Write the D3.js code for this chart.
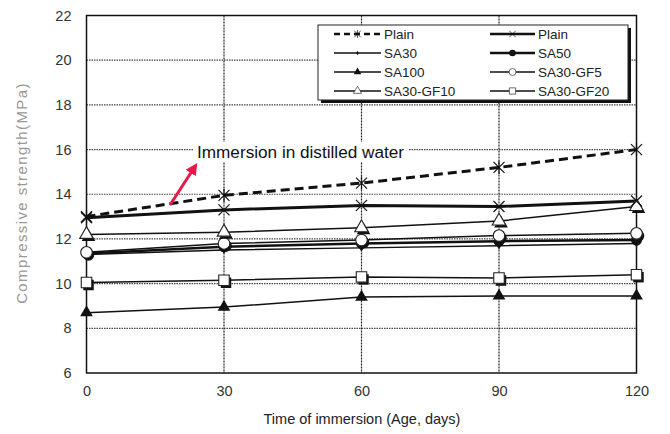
<!DOCTYPE html>
<html>
<head>
<meta charset="utf-8">
<script src="https://cdn.jsdelivr.net/npm/d3@7"></script>
<style>
  body { margin: 0; background: #fff; }
  text { font-family: "Liberation Sans", Arial, sans-serif; }
</style>
</head>
<body>
<svg id="chart" width="670" height="434"></svg>
<script>
// Section for Data
var days = [0, 30, 60, 90, 120];
var xTicks = [0, 30, 60, 90, 120];
var yTicks = [6, 8, 10, 12, 14, 16, 18, 20, 22];

var plainWater = [13.0, 13.95, 14.5, 15.2, 16.0];
var plain = [12.95, 13.3, 13.5, 13.45, 13.7];
var sa30 = [11.3, 11.5, 11.6, 11.7, 11.8];
var sa50 = [11.35, 11.65, 11.8, 11.9, 11.95];
var sa100 = [8.7, 8.95, 9.4, 9.45, 9.45];
var gf5 = [11.4, 11.8, 11.95, 12.15, 12.25];
var gf10 = [12.2, 12.3, 12.5, 12.8, 13.45];
var gf20 = [10.05, 10.15, 10.3, 10.25, 10.4];

var seriesNames = ["Plain", "Plain", "SA30", "SA50", "SA100", "SA30-GF5", "SA30-GF10", "SA30-GF20"];

// style per series: marker, dash, width
var series = [
    { name: seriesNames[0], values: plainWater, marker: "star", dash: "9,5", width: 3 },
    { name: seriesNames[1], values: plain, marker: "x", dash: null, width: 3 },
    { name: seriesNames[2], values: sa30, marker: "diamond", dash: null, width: 1.5 },
    { name: seriesNames[3], values: sa50, marker: "dot", dash: null, width: 2.5 },
    { name: seriesNames[4], values: sa100, marker: "tri", dash: null, width: 1.5 },
    { name: seriesNames[5], values: gf5, marker: "circle", dash: null, width: 1.5 },
    { name: seriesNames[6], values: gf10, marker: "otri", dash: null, width: 1.5 },
    { name: seriesNames[7], values: gf20, marker: "square", dash: null, width: 1.5 }
];

var svg = d3.select("#chart");
var plotLeft = 86.5, plotRight = 636.5, plotTop = 15.5, plotBottom = 373;

var x = d3.scaleLinear().domain([0, 120]).range([plotLeft, plotRight]);
var y = d3.scaleLinear().domain([6, 22]).range([plotBottom, plotTop]);

// gridlines
svg.append("g").selectAll("line")
    .data(yTicks.slice(1, -1))
    .enter().append("line")
    .attr("x1", plotLeft).attr("x2", plotRight)
    .attr("y1", function (d) { return y(d); })
    .attr("y2", function (d) { return y(d); })
    .attr("stroke", "#444").attr("stroke-width", 1.2)
    .attr("stroke-dasharray", "1.5,1");

svg.append("g").selectAll("line")
    .data(xTicks.slice(1, -1))
    .enter().append("line")
    .attr("y1", plotTop).attr("y2", plotBottom)
    .attr("x1", function (d) { return x(d); })
    .attr("x2", function (d) { return x(d); })
    .attr("stroke", "#222").attr("stroke-width", 1.2)
    .attr("stroke-dasharray", "2,1");

// frame
svg.append("rect")
    .attr("x", plotLeft).attr("y", plotTop)
    .attr("width", plotRight - plotLeft).attr("height", plotBottom - plotTop)
    .attr("fill", "none").attr("stroke", "#111").attr("stroke-width", 1.5);

// axes
var xAxis = svg.append("g")
    .attr("transform", "translate(0," + plotBottom + ")")
    .call(d3.axisBottom(x).tickValues(xTicks).tickSize(0).tickPadding(13));
xAxis.select(".domain").remove();
xAxis.selectAll("text").attr("font-size", 14.5).attr("fill", "#333")
    .attr("font-family", "Liberation Sans, Arial, sans-serif");

var yAxis = svg.append("g")
    .attr("transform", "translate(" + plotLeft + ",0)")
    .call(d3.axisLeft(y).tickValues(yTicks).tickSize(0).tickPadding(15));
yAxis.select(".domain").remove();
yAxis.selectAll("text").attr("font-size", 14.5).attr("fill", "#333")
    .attr("font-family", "Liberation Sans, Arial, sans-serif");

svg.append("text")
    .attr("x", 362).attr("y", 424)
    .attr("text-anchor", "middle")
    .attr("font-size", 14.5).attr("fill", "#222")
    .text("Time of immersion (Age, days)");

svg.append("text")
    .attr("transform", "translate(27,193) rotate(-90)")
    .attr("text-anchor", "middle")
    .attr("font-size", 15).attr("fill", "#999")
    .attr("letter-spacing", 1.4)
    .text("Compressive strength(MPa)");

// annotation (drawn before lines so the white box only covers gridlines)
svg.append("rect")
    .attr("x", 194).attr("y", 142).attr("width", 214).attr("height", 20)
    .attr("fill", "#fff");
svg.append("text")
    .attr("x", 197).attr("y", 158)
    .attr("fill", "#111")
    .attr("font-family", "Open Sans, sans-serif")
    .attr("font-size", 16)
    .attr("textLength", 207)
    .attr("lengthAdjust", "spacingAndGlyphs")
    .text("Immersion in distilled water");

// marker drawing
function drawMarker(g, type, cx, cy, shadow) {
    var s = 5.5;
    if (type === "star") {
        g.append("path")
            .attr("d", "M" + (cx - s) + "," + (cy - s) + "L" + (cx + s) + "," + (cy + s) +
                "M" + (cx - s) + "," + (cy + s) + "L" + (cx + s) + "," + (cy - s) +
                "M" + cx + "," + (cy - s - 1) + "L" + cx + "," + (cy + s + 1))
            .attr("stroke", "#111").attr("stroke-width", 1.2).attr("fill", "none");
    } else if (type === "x") {
        g.append("path")
            .attr("d", "M" + (cx - s) + "," + (cy - s) + "L" + (cx + s) + "," + (cy + s) +
                "M" + (cx - s) + "," + (cy + s) + "L" + (cx + s) + "," + (cy - s))
            .attr("stroke", "#111").attr("stroke-width", 1.2).attr("fill", "none");
    } else if (type === "diamond") {
        g.append("path")
            .attr("d", d3.symbol().type(d3.symbolDiamond).size(18)())
            .attr("transform", "translate(" + cx + "," + cy + ")")
            .attr("fill", "#111");
    } else if (type === "dot") {
        g.append("circle").attr("cx", cx).attr("cy", cy).attr("r", s)
            .attr("fill", "#111");
    } else if (type === "tri") {
        g.append("path")
            .attr("d", d3.symbol().type(d3.symbolTriangle).size(70)())
            .attr("transform", "translate(" + cx + "," + cy + ")")
            .attr("fill", "#111");
    } else if (type === "circle" || type === "otri" || type === "square") {
        var sym = type === "circle" ? d3.symbolCircle : (type === "otri" ? d3.symbolTriangle : d3.symbolSquare);
        var size = type === "circle" ? 105 : (type === "otri" ? 80 : 110);
        if (shadow) {
            g.append("path")
                .attr("d", d3.symbol().type(sym).size(size)())
                .attr("transform", "translate(" + (cx + 2) + "," + (cy + 2.5) + ")")
                .attr("fill", "#111");
        }
        g.append("path")
            .attr("d", d3.symbol().type(sym).size(size)())
            .attr("transform", "translate(" + cx + "," + cy + ")")
            .attr("fill", "#fff").attr("stroke", "#222").attr("stroke-width", 1.1);
    }
}

var line = d3.line()
    .x(function (d, i) { return x(days[i]); })
    .y(function (d) { return y(d); });

// draw lines back to front
var order = [4, 7, 2, 3, 5, 6, 1, 0];
order.forEach(function (k) {
    var s = series[k];
    svg.append("path")
        .datum(s.values)
        .attr("d", line)
        .attr("fill", "none")
        .attr("stroke", "#111")
        .attr("stroke-width", s.width)
        .attr("stroke-dasharray", s.dash);
});
order.forEach(function (k) {
    var s = series[k];
    var g = svg.append("g");
    s.values.forEach(function (v, i) {
        drawMarker(g, s.marker, x(days[i]), y(v), true);
    });
});

// red arrow
svg.append("defs").append("marker")
    .attr("id", "arrowhead")
    .attr("viewBox", "0 0 10 10")
    .attr("refX", 5).attr("refY", 5)
    .attr("markerWidth", 4).attr("markerHeight", 4)
    .attr("orient", "auto")
    .append("path").attr("d", "M0,0L10,5L0,10Z").attr("fill", "#e8194a");
svg.append("line")
    .attr("x1", 170).attr("y1", 205).attr("x2", 194).attr("y2", 168)
    .attr("stroke", "#e8194a").attr("stroke-width", 3)
    .attr("marker-end", "url(#arrowhead)");

// legend
var lg = svg.append("g");
var lx = 318, ly = 25, lw = 310, lh = 75;
lg.append("rect").attr("x", lx + 3).attr("y", ly + 3).attr("width", lw).attr("height", lh)
    .attr("fill", "#111");
lg.append("rect").attr("x", lx).attr("y", ly).attr("width", lw).attr("height", lh)
    .attr("fill", "#fff").attr("stroke", "#222").attr("stroke-width", 1);

series.forEach(function (s, i) {
    var col = i % 2, row = Math.floor(i / 2);
    var x0 = col === 0 ? 334 : 490;
    var x1 = col === 0 ? 381 : 535;
    var yy = 34 + row * 19;
    lg.append("line")
        .attr("x1", x0).attr("x2", x1).attr("y1", yy).attr("y2", yy)
        .attr("stroke", "#111")
        .attr("stroke-width", Math.min(s.width, 2.5))
        .attr("stroke-dasharray", s.dash ? "6,4" : null);
    var mg = lg.append("g").attr("transform", "translate(" + ((x0 + x1) / 2) + "," + yy + ") scale(0.6) translate(" + (-(x0 + x1) / 2) + "," + (-yy) + ")");
    drawMarker(mg, s.marker, (x0 + x1) / 2, yy, false);
    lg.append("text")
        .attr("x", x1 + 3).attr("y", yy + 5)
        .attr("font-size", 13.5).attr("fill", "#222")
        .text(s.name);
});
</script>
</body>
</html>
